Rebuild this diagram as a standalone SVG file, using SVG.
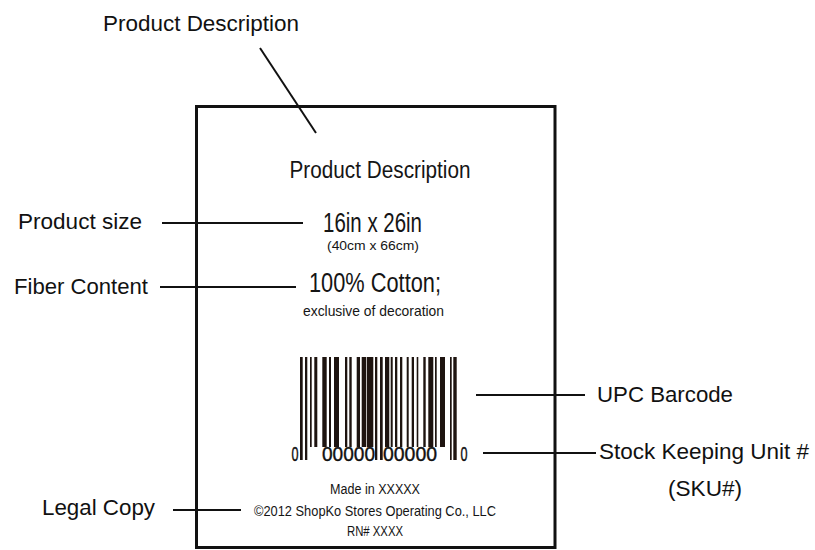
<svg xmlns="http://www.w3.org/2000/svg" width="815" height="550" viewBox="0 0 815 550">
<style>
.lbl{font-family:"Liberation Sans",Arial,sans-serif;font-size:22px;fill:#111}
.in{font-family:"Liberation Sans Narrow","Liberation Sans",Arial,sans-serif;fill:#151515;text-anchor:middle}
.ln{stroke:#111;stroke-width:2;fill:none}
.bar{fill:#1e1410}
.dg{font-family:"Liberation Sans Narrow","Liberation Sans",Arial,sans-serif;font-size:20px;fill:#111;stroke:#111;stroke-width:0.4;text-anchor:middle}
</style>
<rect width="815" height="550" fill="#fff"/>
<g id="label-box">
<rect x="196.5" y="106.5" width="358.5" height="441" fill="none" stroke="#111" stroke-width="3"/>
<text class="in" x="380" y="178" font-size="23" textLength="181" lengthAdjust="spacingAndGlyphs">Product Description</text>
<text class="in" x="372.5" y="232" font-size="27" textLength="99" lengthAdjust="spacingAndGlyphs">16in x 26in</text>
<text class="in" x="373" y="250" font-size="13" textLength="92" lengthAdjust="spacingAndGlyphs">(40cm x 66cm)</text>
<text class="in" x="375" y="292" font-size="27" textLength="132" lengthAdjust="spacingAndGlyphs">100% Cotton;</text>
<text class="in" x="373.5" y="316" font-size="15" textLength="141" lengthAdjust="spacingAndGlyphs">exclusive of decoration</text>
<text class="in" x="375" y="494" font-size="14" textLength="90" lengthAdjust="spacingAndGlyphs">Made in XXXXX</text>
<text class="in" x="375" y="516" font-size="15" textLength="242" lengthAdjust="spacingAndGlyphs">©2012 ShopKo Stores Operating Co., LLC</text>
<text class="in" x="375" y="536" font-size="14" textLength="56" lengthAdjust="spacingAndGlyphs">RN# XXXX</text>
</g>
<g id="barcode">
<rect class="bar" x="300" y="357" width="2.7" height="103"/>
<rect class="bar" x="305" y="357" width="2.3" height="103"/>
<rect class="bar" x="310" y="357" width="1.7" height="90"/>
<rect class="bar" x="314.3" y="357" width="3" height="90"/>
<rect class="bar" x="322.3" y="357" width="4.4" height="90"/>
<rect class="bar" x="329" y="357" width="2" height="90"/>
<rect class="bar" x="334" y="357" width="5" height="90"/>
<rect class="bar" x="345" y="357" width="2.3" height="90"/>
<rect class="bar" x="349.3" y="357" width="2.4" height="90"/>
<rect class="bar" x="356.7" y="357" width="3.3" height="90"/>
<rect class="bar" x="361.7" y="357" width="4.3" height="90"/>
<rect class="bar" x="366.7" y="357" width="6.6" height="90"/>
<rect class="bar" x="375" y="357" width="2.3" height="103"/>
<rect class="bar" x="380" y="357" width="2.7" height="103"/>
<rect class="bar" x="385" y="357" width="4.3" height="90"/>
<rect class="bar" x="390.7" y="357" width="2" height="90"/>
<rect class="bar" x="395" y="357" width="2.3" height="90"/>
<rect class="bar" x="400" y="357" width="2.3" height="90"/>
<rect class="bar" x="406.7" y="357" width="2" height="90"/>
<rect class="bar" x="411.7" y="357" width="2.3" height="90"/>
<rect class="bar" x="416.7" y="357" width="1.6" height="90"/>
<rect class="bar" x="423.3" y="357" width="2.4" height="90"/>
<rect class="bar" x="428.3" y="357" width="5" height="90"/>
<rect class="bar" x="435" y="357" width="1.7" height="90"/>
<rect class="bar" x="440" y="357" width="5" height="90"/>
<rect class="bar" x="450" y="357" width="1.7" height="103"/>
<rect class="bar" x="453.3" y="357" width="3.4" height="103"/>
<text class="dg" x="295" y="461" textLength="7" lengthAdjust="spacingAndGlyphs">0</text>
<text class="dg" x="348.5" y="461" textLength="53" lengthAdjust="spacingAndGlyphs">00000</text>
<text class="dg" x="410" y="461" textLength="54" lengthAdjust="spacingAndGlyphs">00000</text>
<text class="dg" x="464" y="461" textLength="7" lengthAdjust="spacingAndGlyphs">0</text>
</g>
<g id="callout-labels">
<text class="lbl" x="201" y="31" text-anchor="middle" textLength="196" lengthAdjust="spacingAndGlyphs">Product Description</text>
<text class="lbl" x="18" y="229" textLength="124" lengthAdjust="spacingAndGlyphs">Product size</text>
<text class="lbl" x="14" y="294" textLength="134" lengthAdjust="spacingAndGlyphs">Fiber Content</text>
<text class="lbl" x="42" y="515" textLength="113" lengthAdjust="spacingAndGlyphs">Legal Copy</text>
<text class="lbl" x="597" y="402" textLength="136" lengthAdjust="spacingAndGlyphs">UPC Barcode</text>
<text class="lbl" x="599" y="459" textLength="210" lengthAdjust="spacingAndGlyphs">Stock Keeping Unit #</text>
<text class="lbl" x="705" y="496" text-anchor="middle" textLength="74" lengthAdjust="spacingAndGlyphs">(SKU#)</text>
</g>
<g id="connectors">
<line class="ln" x1="260" y1="48" x2="316" y2="133"/>
<line class="ln" x1="162" y1="223" x2="303" y2="223"/>
<line class="ln" x1="160" y1="287" x2="296" y2="287"/>
<line class="ln" x1="173" y1="510" x2="241" y2="510"/>
<line class="ln" x1="476" y1="395" x2="585" y2="395"/>
<line class="ln" x1="483" y1="453" x2="596" y2="453"/>
</g>
</svg>
